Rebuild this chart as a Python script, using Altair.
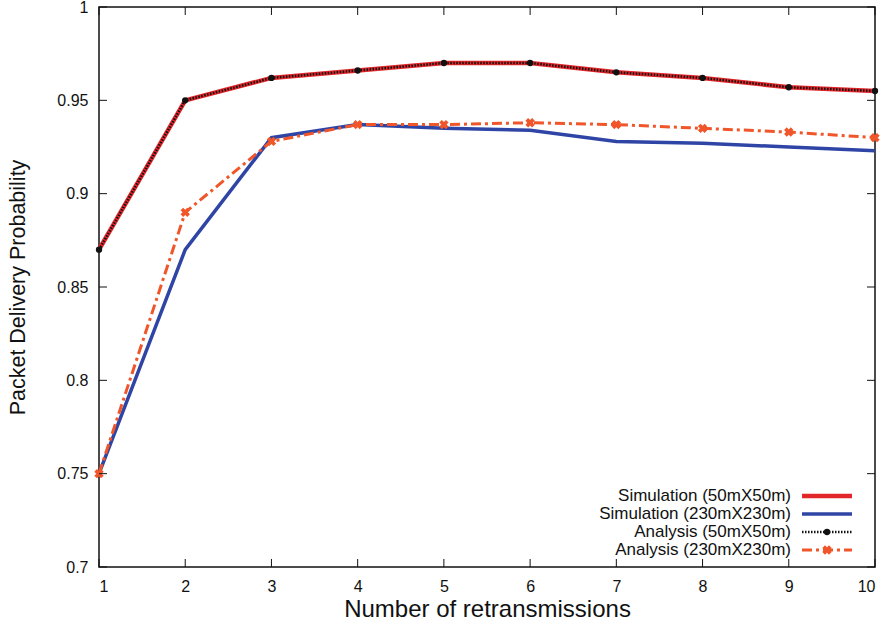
import altair as alt
import pandas as pd

# ---- data ----
retrans = [1, 2, 3, 4, 5, 6, 7, 8, 9, 10]
sim_50 = [0.870, 0.950, 0.962, 0.966, 0.970, 0.970, 0.965, 0.962, 0.957, 0.955]
sim_230 = [0.750, 0.870, 0.930, 0.937, 0.935, 0.934, 0.928, 0.927, 0.925, 0.923]
ana_50 = [0.870, 0.950, 0.962, 0.966, 0.970, 0.970, 0.965, 0.962, 0.957, 0.955]
ana_230 = [0.750, 0.890, 0.928, 0.937, 0.937, 0.938, 0.937, 0.935, 0.933, 0.930]

x_ticks = [1, 2, 3, 4, 5, 6, 7, 8, 9, 10]
y_ticks = [0.7, 0.75, 0.8, 0.85, 0.9, 0.95, 1.0]

labels = ["Simulation (50mX50m)", "Simulation (230mX230m)",
          "Analysis (50mX50m)", "Analysis (230mX230m)"]

RED = "#e3262a"
BLUE = "#2f45a6"
BLACK = "#111111"
ORANGE = "#f0562a"
FONT = "Liberation Sans"

W, H = 776, 560

def frame(vals):
    return pd.DataFrame({"n": retrans, "p": vals})

xs = alt.Scale(domain=[1, 10], nice=False, zero=False)
ys = alt.Scale(domain=[0.7, 1.0], nice=False, zero=False)

X = alt.X("n:Q", scale=xs, axis=alt.Axis(values=x_ticks, format="d", title="Number of retransmissions",
                                         ticks=False, domain=False, grid=False, labelFontSize=16,
                                         titleFontSize=24, labelPadding=11, titlePadding=3,
                                         labelFont=FONT, titleFont=FONT, titleFontWeight="normal",
                                         labelColor="#111", titleColor="#111"))
Y = alt.Y("p:Q", scale=ys, axis=alt.Axis(values=y_ticks, format="~g", title="Packet Delivery Probability",
                                         ticks=False, domain=False, grid=False, labelFontSize=16,
                                         titleFontSize=21.5, labelPadding=11, titlePadding=27,
                                         labelFont=FONT, titleFont=FONT, titleFontWeight="normal",
                                         labelColor="#111", titleColor="#111"))

l_sim50 = alt.Chart(frame(sim_50)).mark_line(color=RED, strokeWidth=4.5).encode(x=X, y=Y)
l_sim230 = alt.Chart(frame(sim_230)).mark_line(color=BLUE, strokeWidth=3.5).encode(x="n:Q", y="p:Q")
l_ana230 = alt.Chart(frame(ana_230)).mark_line(color=ORANGE, strokeWidth=3, strokeDash=[10, 4, 3, 4]).encode(x="n:Q", y="p:Q")
p_ana230 = alt.Chart(frame(ana_230)).mark_point(shape="cross", angle=45, filled=True, color=ORANGE,
                                                size=90, opacity=1).encode(x="n:Q", y="p:Q")
l_ana50 = alt.Chart(frame(ana_50)).mark_line(color=BLACK, strokeWidth=2.5, strokeDash=[1.5, 1.5]).encode(x="n:Q", y="p:Q")
p_ana50 = alt.Chart(frame(ana_50)).mark_point(shape="circle", filled=True, color=BLACK,
                                              size=40, opacity=1).encode(x="n:Q", y="p:Q")

# inward ticks on all four sides
xt = pd.DataFrame({"t": x_ticks})
yt = pd.DataFrame({"t": y_ticks})
tk = 8
ticks = [
    alt.Chart(xt).mark_rule(color="#111", strokeWidth=1).encode(x="t:Q", y=alt.value(H), y2=alt.value(H - tk)),
    alt.Chart(xt).mark_rule(color="#111", strokeWidth=1).encode(x="t:Q", y=alt.value(0), y2=alt.value(tk)),
    alt.Chart(yt).mark_rule(color="#111", strokeWidth=1).encode(y="t:Q", x=alt.value(0), x2=alt.value(tk)),
    alt.Chart(yt).mark_rule(color="#111", strokeWidth=1).encode(y="t:Q", x=alt.value(W), x2=alt.value(W - tk)),
]

# legend (inside, bottom right, labels right-aligned left of samples)
leg_y = [489, 507, 525, 543]
tx, lx1, lx2 = 692, 703, 753
one = pd.DataFrame({"a": [0]})
legend = []
styles = [
    dict(color=RED, strokeWidth=4.5),
    dict(color=BLUE, strokeWidth=3.5),
    dict(color=BLACK, strokeWidth=2.5, strokeDash=[1.5, 1.5]),
    dict(color=ORANGE, strokeWidth=3, strokeDash=[10, 4, 3, 4]),
]
for i, lab in enumerate(labels):
    legend.append(alt.Chart(pd.DataFrame({"lab": [lab]})).mark_text(
        align="right", baseline="middle", fontSize=17, font=FONT, color="#111").encode(
        text="lab:N", x=alt.value(tx), y=alt.value(leg_y[i])))
    legend.append(alt.Chart(one).mark_rule(**styles[i]).encode(
        x=alt.value(lx1), x2=alt.value(lx2), y=alt.value(leg_y[i])))
legend.append(alt.Chart(one).mark_point(shape="circle", filled=True, color=BLACK, size=40, opacity=1).encode(
    x=alt.value(728), y=alt.value(leg_y[2])))
legend.append(alt.Chart(one).mark_point(shape="cross", angle=45, filled=True, color=ORANGE, size=90, opacity=1).encode(
    x=alt.value(728), y=alt.value(leg_y[3])))

chart = alt.layer(
    l_sim50, l_sim230, l_ana230, p_ana230, l_ana50, p_ana50, *ticks, *legend
).properties(
    width=W, height=H,
    autosize=alt.AutoSizeParams(type="none"),
    padding={"left": 99, "top": 7, "right": 17, "bottom": 59},
    background="white",
).configure_view(stroke="#111", strokeWidth=1.5)

chart.save("out.html", embed_options={"renderer": "svg", "actions": False})
